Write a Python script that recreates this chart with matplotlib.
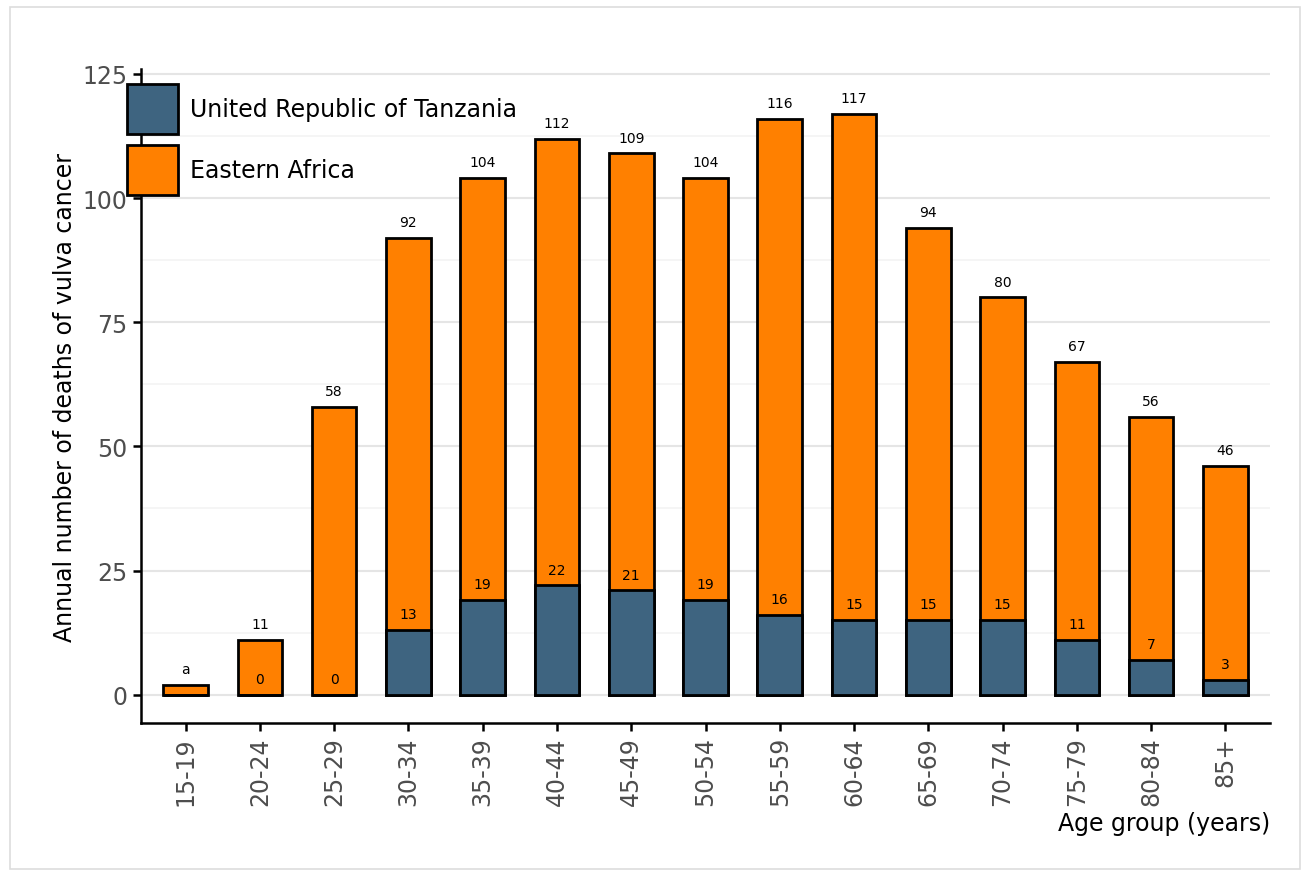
import matplotlib
matplotlib.use("Agg")
import matplotlib.pyplot as plt
from matplotlib.patches import Rectangle, Patch

age_groups = ["15-19", "20-24", "25-29", "30-34", "35-39", "40-44", "45-49", "50-54",
              "55-59", "60-64", "65-69", "70-74", "75-79", "80-84", "85+"]
eastern_africa = [2, 11, 58, 92, 104, 112, 109, 104, 116, 117, 94, 80, 67, 56, 46]
eastern_africa_labels = ["a", "11", "58", "92", "104", "112", "109", "104", "116", "117",
                         "94", "80", "67", "56", "46"]
tanzania = [0, 0, 0, 13, 19, 22, 21, 19, 16, 15, 15, 15, 11, 7, 3]
tanzania_labels = ["", "0", "0", "13", "19", "22", "21", "19", "16", "15", "15", "15",
                   "11", "7", "3"]

c_tz = "#3e6480"
c_ea = "#ff8000"
FS = 17

fig = plt.figure(figsize=(13.11, 8.79), dpi=100)
fig.patches.append(Rectangle((10/1311, 1-870/879), 1290/1311, 862/879, transform=fig.transFigure,
                             fill=False, edgecolor="#dddddd", linewidth=1.2))
ax = fig.add_axes([141/1311, 1-724/879, (1270-141)/1311, (724-70)/879])

x = list(range(len(age_groups)))
ax.bar(x, eastern_africa, width=0.6, color=c_ea, edgecolor="black", linewidth=2.0, zorder=3)
ax.bar(x, tanzania, width=0.6, color=c_tz, edgecolor="black", linewidth=2.0, zorder=4)

for xi, v, lab in zip(x, eastern_africa, eastern_africa_labels):
    ax.text(xi, v + 3.2, lab, ha="center", va="center", fontsize=10, zorder=5)
for xi, v, lab in zip(x, tanzania, tanzania_labels):
    if lab:
        ax.text(xi, v + 3.2, lab, ha="center", va="center", fontsize=10, zorder=5)

ax.set_xlim(-0.6, 14.6)
ax.set_ylim(-5.7, 126)
ax.set_yticks([0, 25, 50, 75, 100, 125])
ax.set_yticks([12.5, 37.5, 62.5, 87.5, 112.5], minor=True)
ax.tick_params(axis="y", which="minor", length=0)
ax.grid(axis="y", which="major", color="#e5e5e5", linewidth=1.5, zorder=0)
ax.grid(axis="y", which="minor", color="#f3f3f3", linewidth=1.2, zorder=0)
ax.set_xticks(x)
ax.set_xticklabels(age_groups, rotation=90)
ax.tick_params(axis="both", which="major", labelsize=FS, labelcolor="#4d4d4d",
               length=6, width=1.8, direction="out", color="black")
for s in ["top", "right"]:
    ax.spines[s].set_visible(False)
for s in ["left", "bottom"]:
    ax.spines[s].set_linewidth(1.8)

ax.set_ylabel("Annual number of deaths of vulva cancer", fontsize=FS)
ax.set_xlabel("Age group (years)", fontsize=FS, loc="right")

handles = [Patch(facecolor=c_tz, edgecolor="black", linewidth=2.0, label="United Republic of Tanzania"),
           Patch(facecolor=c_ea, edgecolor="black", linewidth=2.0, label="Eastern Africa")]
leg = fig.legend(handles=handles, loc="upper left", bbox_to_anchor=(127/1311, 1-85/879),
                 frameon=False, fontsize=FS, handlelength=2.16, handleheight=2.88,
                 labelspacing=0.45, handletextpad=0.5, borderpad=0, borderaxespad=0)
leg.set_zorder(10)

fig.savefig("out.png", dpi=100, facecolor="white")
